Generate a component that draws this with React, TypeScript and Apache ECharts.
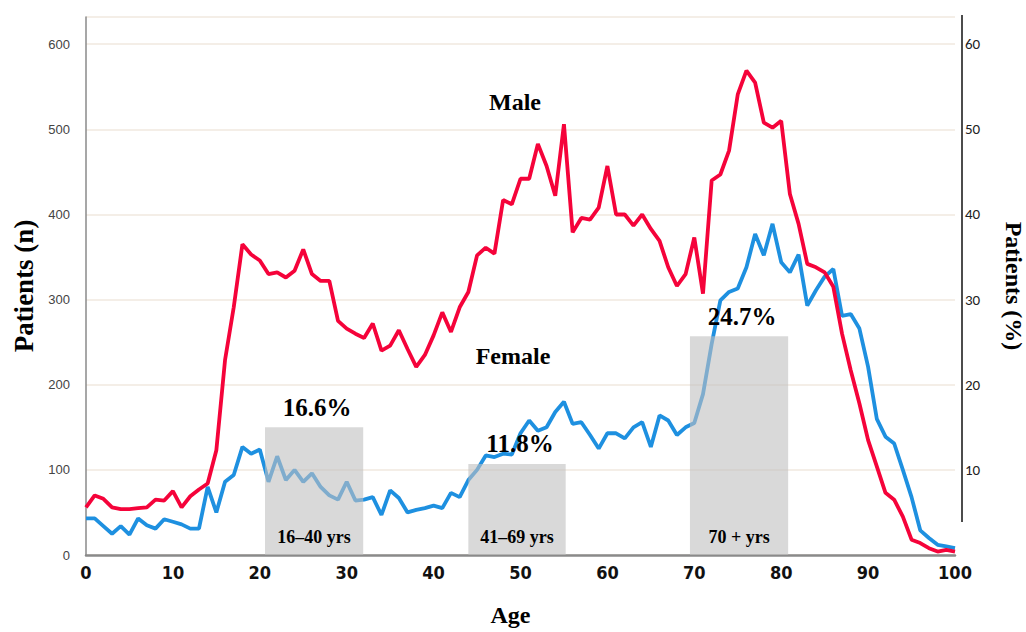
import React, { useEffect, useRef } from "react";
import * as echarts from "echarts";

const ages: number[] = Array.from({ length: 101 }, (_, i) => i);

const male: number[] = [
  56, 70, 66, 56, 54, 54, 55, 56, 65, 64,
  75, 56, 69, 77, 84, 123, 229, 291, 365, 353,
  346, 330, 332, 326, 334, 359, 330, 322, 322, 275,
  266, 260, 255, 272, 240, 246, 264, 242, 221, 235,
  258, 285, 262, 291, 309, 352, 361, 354, 417, 412,
  442, 442, 483, 457, 422, 506, 379, 396, 394, 408,
  457, 400, 400, 387, 400, 383, 369, 338, 316, 330,
  373, 307, 440, 447, 475, 541, 569, 555, 508, 502,
  510, 424, 389, 342, 338, 332, 315, 260, 217, 178,
  135, 104, 73, 65, 45, 18, 14, 8, 4, 6, 4,
];

const female: number[] = [
  43, 43, 34, 25, 34, 24, 43, 35, 31, 42,
  39, 36, 31, 31, 80, 50, 86, 94, 127, 119,
  124, 86, 116, 88, 100, 86, 96, 80, 70, 65,
  86, 64, 65, 68, 47, 76, 67, 50, 53, 55,
  58, 55, 73, 68, 88, 100, 117, 115, 119, 118,
  143, 158, 146, 150, 168, 180, 154, 156, 141, 125,
  143, 143, 137, 150, 156, 127, 164, 158, 141, 150,
  155, 189, 248, 299, 309, 313, 338, 377, 352, 389,
  344, 332, 353, 293, 311, 327, 336, 281, 283, 266,
  221, 160, 139, 131, 100, 68, 29, 20, 12, 10, 8,
];

// age-group boxes (right axis, %)
const boxStart: number[] = [20.6, 44.0, 69.5];
const boxEnd: number[] = [31.9, 55.2, 80.8];
const boxHeight: number[] = [15.0, 10.7, 25.7];
const boxPct: string[] = ["16.6%", "11.8%", "24.7%"];
const boxRange: string[] = ["16–40 yrs", "41–69 yrs", "70 + yrs"];

const leftTicks: number[] = [0, 100, 200, 300, 400, 500, 600];
const rightTicks: number[] = [10, 20, 30, 40, 50, 60];

const SERIF = "'Liberation Serif', 'Times New Roman', serif";

export default function App() {
  const ref = useRef<HTMLDivElement>(null);

  useEffect(() => {
    if (!ref.current) return;
    const chart = echarts.init(ref.current, undefined, { renderer: "svg" });

    const maleData = ages.map((a, i) => [a, male[i]]);
    const femaleData = ages.map((a, i) => [a, female[i]]);
    const boxData = boxStart.map((s, i) => [s, boxEnd[i], boxHeight[i]]);

    const centerText = {
      fill: "#000",
      fontFamily: SERIF,
      fontWeight: "bold",
      align: "center",
      verticalAlign: "middle",
      textAlign: "center",
      textVerticalAlign: "middle",
    };

    chart.setOption({
      animation: false,
      backgroundColor: "#ffffff",
      grid: {
        left: 86,
        right: 71,
        top: 17,
        bottom: 77,
        containLabel: false,
        outerBoundsMode: "none",
      },
      xAxis: {
        type: "value",
        min: 0,
        max: 100,
        interval: 10,
        name: "Age",
        nameLocation: "middle",
        nameGap: 48,
        nameTextStyle: {
          fontFamily: SERIF,
          fontWeight: "bold",
          fontSize: 24,
          color: "#000",
          padding: [0, 20, 0, 0],
        },
        axisLine: { show: true, lineStyle: { color: "#8a8a8a", width: 2.5 } },
        axisTick: { show: false },
        splitLine: { show: false },
        axisLabel: {
          margin: 8,
          fontFamily: "'Liberation Sans Narrow', 'DejaVu Sans Condensed', 'Arial Narrow', sans-serif",
          fontWeight: "bold",
          fontSize: 18,
          color: "#111",
        },
      },
      yAxis: [
        {
          type: "value",
          min: 0,
          max: 632,
          interval: 100,
          name: "Patients (n)",
          nameLocation: "middle",
          nameGap: 46,
          nameTextStyle: { fontFamily: SERIF, fontWeight: "bold", fontSize: 27, color: "#000" },
          axisLine: { show: true, lineStyle: { color: "#8a8a8a", width: 1.5 } },
          axisTick: { show: false },
          splitLine: { show: true, lineStyle: { color: "#f1e9df", width: 1.5 } },
          axisLabel: {
            margin: 16,
            fontFamily: "'Liberation Sans', Arial, sans-serif",
            fontSize: 13,
            color: "#444",
            formatter: (v: number) => (leftTicks.includes(v) ? String(v) : ""),
          },
        },
        {
          type: "value",
          min: 0,
          max: 63.2,
          interval: 10,
          position: "right",
          offset: 7,
          name: "Patients (%)",
          nameLocation: "middle",
          nameRotate: -90,
          nameGap: 40,
          nameTextStyle: { fontFamily: SERIF, fontWeight: "bold", fontSize: 24, color: "#000" },
          axisLine: { show: false },
          axisTick: { show: false },
          splitLine: { show: false },
          axisLabel: {
            margin: 3,
            fontFamily: "Carlito, 'Open Sans', sans-serif",
            fontSize: 15,
            color: "#222",
            formatter: (v: number) => (rightTicks.includes(v) ? String(v) : ""),
          },
        },
      ],
      series: [
        {
          name: "Female",
          type: "line",
          data: femaleData,
          showSymbol: false,
          symbol: "none",
          z: 2,
          lineStyle: { color: "#1e90e0", width: 3.8 },
        },
        {
          name: "Male",
          type: "line",
          data: maleData,
          showSymbol: false,
          symbol: "none",
          z: 3,
          lineStyle: { color: "#f5033a", width: 3.8 },
        },
        {
          type: "custom",
          yAxisIndex: 1,
          z: 5,
          data: boxData,
          encode: { x: [0, 1], y: 2 },
          renderItem: (params: any, api: any) => {
            const idx = params.dataIndex;
            const p0 = api.coord([api.value(0), api.value(2)]);
            const p1 = api.coord([api.value(1), 0]);
            const cx = (p0[0] + p1[0]) / 2;
            return {
              type: "group",
              children: [
                {
                  type: "rect",
                  shape: { x: p0[0], y: p0[1], width: p1[0] - p0[0], height: p1[1] - p0[1] },
                  style: { fill: "rgba(192,192,192,0.6)" },
                },
                {
                  type: "text",
                  x: cx + 3,
                  y: p0[1] - 20,
                  style: { ...centerText, text: boxPct[idx], fontSize: 25 },
                },
                {
                  type: "text",
                  x: cx,
                  y: p1[1] - 18,
                  style: { ...centerText, text: boxRange[idx], fontSize: 18 },
                },
              ],
            };
          },
        },
      ],
      graphic: [
        {
          type: "line",
          shape: { x1: 962, y1: 15, x2: 962, y2: 522 },
          style: { stroke: "#111", lineWidth: 1.5 },
          z: 10,
        },
        {
          type: "text",
          x: 515,
          y: 102,
          style: { ...centerText, text: "Male", fontSize: 24 },
          z: 10,
        },
        {
          type: "text",
          x: 513,
          y: 356,
          style: { ...centerText, text: "Female", fontSize: 24 },
          z: 10,
        },
      ],
    });

    return () => chart.dispose();
  }, []);

  return (
    <div
      ref={ref}
      style={{ position: "fixed", left: 0, top: 0, width: 1026, height: 632, background: "#fff" }}
    />
  );
}
